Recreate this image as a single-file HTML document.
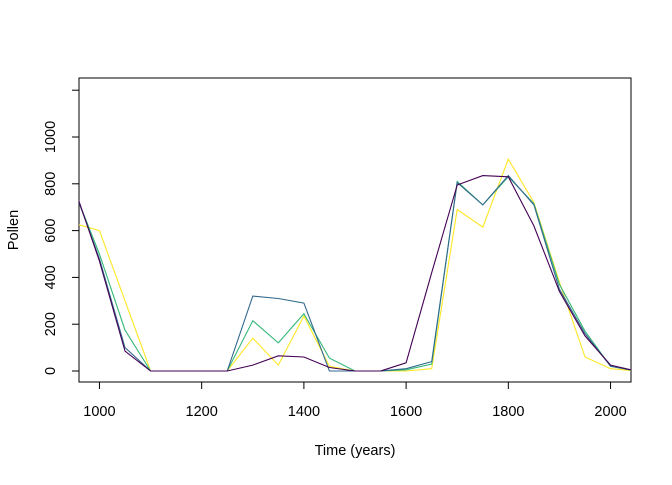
<!DOCTYPE html>
<html><head><meta charset="utf-8"><style>body{margin:0;background:#fff}svg text{font-family:"Liberation Sans",sans-serif;font-size:14.5px;fill:#000}</style></head>
<body>
<svg id="s" width="672" height="480" xmlns="http://www.w3.org/2000/svg">
<defs><clipPath id="c"><rect x="79" y="78" width="552" height="304"/></clipPath></defs>
<rect x="79" y="78" width="552" height="304" fill="none" stroke="#000" stroke-width="1"/>
<g id="ax" stroke="#000" fill="none"></g>
<g id="lab"></g>
<g id="ser" clip-path="url(#c)" fill="none" stroke-width="1.1"></g>
<text x="355" y="455" text-anchor="middle">Time (years)</text>
<text transform="translate(18,230) rotate(-90)" text-anchor="middle">Pollen</text>
</svg>
<script>
const X=t=>79+(t-960)*(552/1080), Y=v=>371-v*0.2340;
const ns="http://www.w3.org/2000/svg";
const ax=document.getElementById('ax'),lab=document.getElementById('lab'),ser=document.getElementById('ser');
function el(p,tag,a,txt){const e=document.createElementNS(ns,tag);for(const k in a)e.setAttribute(k,a[k]);if(txt!==undefined)e.textContent=String(txt);p.appendChild(e);return e;}
for(const t of [1000,1200,1400,1600,1800,2000]){const x=X(t);el(ax,'line',{x1:x,x2:x,y1:382,y2:389});el(lab,'text',{x:x,y:416,'text-anchor':'middle'},t);}
for(let v=0;v<=1200;v+=200){const y=Y(v);el(ax,'line',{x1:72,x2:79,y1:y,y2:y});if(v<=1000)el(lab,'text',{transform:`translate(55,${y}) rotate(-90)`,'text-anchor':'middle'},v);}
const T=[];for(let t=950;t<=2050;t+=50)T.push(t);
const S=[
["#FDE725",[631,600,300,0,0,0,0,140,25,235,20,0,0,0,10,690,615,905,720,380,60,10,0]],
["#35B779",[775,500,175,0,0,0,0,215,120,245,55,0,0,5,30,810,710,830,715,370,170,20,0]],
["#31688E",[780,480,100,0,0,0,0,320,310,290,0,0,0,10,40,805,710,835,710,350,160,20,0]],
["#440154",[789,470,85,0,0,0,0,25,65,60,15,0,0,35,420,795,835,830,620,340,150,25,0]]];
for(const [c,d] of S){el(ser,'polyline',{stroke:c,points:d.map((v,i)=>X(T[i]).toFixed(1)+','+Y(v).toFixed(1)).join(' ')});}
</script>
</body></html>
